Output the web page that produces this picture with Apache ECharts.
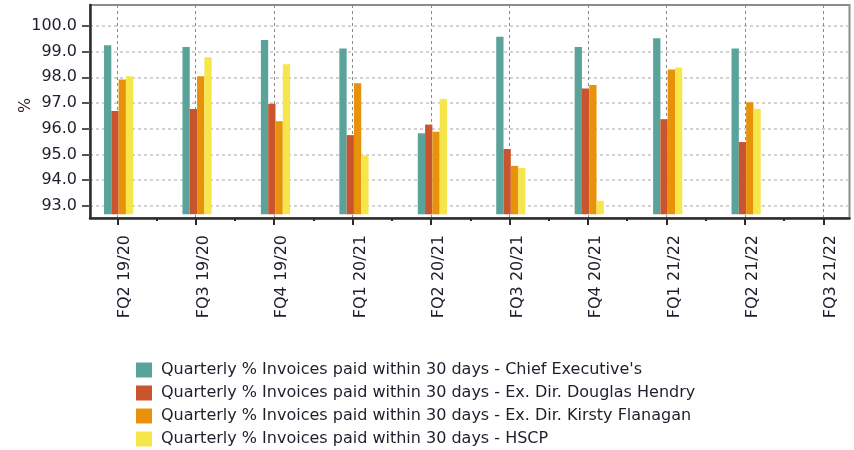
<!DOCTYPE html>
<html>
<head>
<meta charset="utf-8">
<script src="https://cdn.jsdelivr.net/npm/echarts@6/dist/echarts.min.js"></script>
<style>
html, body { margin: 0; padding: 0; background: #fff; }
#chart { width: 854px; height: 450px; }
</style>
</head>
<body>
<div id="chart"></div>
<script>
// quarters on the x axis
var quarters = ['FQ2 19/20', 'FQ3 19/20', 'FQ4 19/20', 'FQ1 20/21', 'FQ2 20/21',
    'FQ3 20/21', 'FQ4 20/21', 'FQ1 21/22', 'FQ2 21/22', 'FQ3 21/22'];

var seriesNames = [
    'Quarterly % Invoices paid within 30 days - Chief Executive\'s',
    'Quarterly % Invoices paid within 30 days - Ex. Dir. Douglas Hendry',
    'Quarterly % Invoices paid within 30 days - Ex. Dir. Kirsty Flanagan',
    'Quarterly % Invoices paid within 30 days - HSCP'
];

// values (no data for FQ3 21/22)
var chiefExec = [99.25, 99.18, 99.45, 99.12, 95.82, 99.58, 99.18, 99.52, 99.12, null];
var douglasHendry = [96.69, 96.77, 96.97, 95.75, 96.16, 95.21, 97.57, 96.37, 95.48, null];
var kirstyFlanagan = [97.92, 98.04, 96.29, 97.77, 95.88, 94.55, 97.70, 98.31, 97.03, null];
var hscp = [98.04, 98.78, 98.51, 94.96, 97.16, 94.47, 93.19, 98.38, 96.77, null];

var yTickMin = 93;
var yTickMax = 100;

var colors = ['#5aa39b', '#c9552f', '#e8910b', '#f6e64c'];
var textColor = '#1e1e2c';
var fontName = 'DejaVu Sans';

var chart = echarts.init(document.getElementById('chart'), null, { renderer: 'canvas' });

function makeBar(i, data) {
    return {
        name: seriesNames[i],
        type: 'bar',
        xAxisIndex: 0,
        yAxisIndex: 0,
        barWidth: 7.3,
        barGap: '0%',
        itemStyle: { color: colors[i] },
        data: data
    };
}

var option = {
    backgroundColor: '#fff',
    animation: false,
    textStyle: { fontFamily: fontName },
    grid: [
        // bars
        { left: 79.4, top: 5, width: 784.4, height: 209.3, outerBoundsMode: 'none', containLabel: false },
        // frame
        { left: 90, top: 5, width: 759.5, height: 213, outerBoundsMode: 'none', containLabel: false,
          show: true, borderColor: '#8c8c8c', borderWidth: 2, backgroundColor: 'transparent' },
        // y labels and horizontal grid lines
        { left: 90, top: 26, width: 759.5, height: 179.7, outerBoundsMode: 'none', containLabel: false },
        // x labels, ticks and vertical grid lines
        { left: 117.3, top: 5, width: 706, height: 213, outerBoundsMode: 'none', containLabel: false }
    ],
    legend: {
        orient: 'vertical',
        left: 136,
        top: 362,
        height: 88,
        padding: 0,
        icon: 'rect',
        itemWidth: 16,
        itemHeight: 15,
        itemGap: 7,
        textStyle: { color: textColor, fontSize: 16, fontFamily: fontName, padding: [0, 0, 0, 4] },
        data: seriesNames
    },
    xAxis: [
        { gridIndex: 0, type: 'category', data: quarters, boundaryGap: true, show: false },
        { gridIndex: 1, type: 'value', min: 0, max: 1,
          axisLine: { show: true, lineStyle: { color: '#2b2b2b', width: 2.5 } },
          axisTick: { show: false }, axisLabel: { show: false }, splitLine: { show: false } },
        { gridIndex: 2, type: 'value', min: 0, max: 1, show: false },
        { gridIndex: 3, type: 'value', min: 0, max: quarters.length - 1, interval: 1,
          axisLine: { show: false },
          axisTick: { show: true, length: 7, lineStyle: { color: '#2b2b2b', width: 2 } },
          minorTick: { show: true, splitNumber: 2, length: 3, lineStyle: { color: '#2b2b2b', width: 2 } },
          splitLine: { show: true, lineStyle: { color: '#8a8a8a', width: 1, type: [3, 3] } },
          axisLabel: {
              rotate: 90, margin: 17, fontSize: 16, color: textColor, fontFamily: fontName,
              verticalAlign: 'top',
              formatter: function (v) { return quarters[v] || ''; }
          } }
    ],
    yAxis: [
        { gridIndex: 0, type: 'value', min: 92.665, max: 100.818, show: false },
        { gridIndex: 1, type: 'value', min: 0, max: 1,
          name: '%', nameLocation: 'middle', nameGap: 56, nameRotate: 90,
          nameTextStyle: { color: '#3a1a2a', fontSize: 16, fontFamily: fontName, padding: [0, 0, 0, 12] },
          axisLine: { show: true, lineStyle: { color: '#2b2b2b', width: 2.5 } },
          axisTick: { show: false }, axisLabel: { show: false }, splitLine: { show: false } },
        { gridIndex: 2, type: 'value', min: yTickMin, max: yTickMax, interval: 1,
          axisLine: { show: false },
          axisTick: { show: true, length: 8, lineStyle: { color: '#555', width: 2 } },
          axisLabel: { margin: 13, fontSize: 16, color: textColor, fontFamily: fontName,
              formatter: function (v) { return v.toFixed(1); } },
          splitLine: { show: true, lineStyle: { color: '#c4c4c4', width: 1.5, type: [3, 3] } } },
        { gridIndex: 3, type: 'value', min: 0, max: 1, show: false }
    ],
    series: [
        makeBar(0, chiefExec),
        makeBar(1, douglasHendry),
        makeBar(2, kirstyFlanagan),
        makeBar(3, hscp)
    ]
};

chart.setOption(option);
</script>
</body>
</html>
